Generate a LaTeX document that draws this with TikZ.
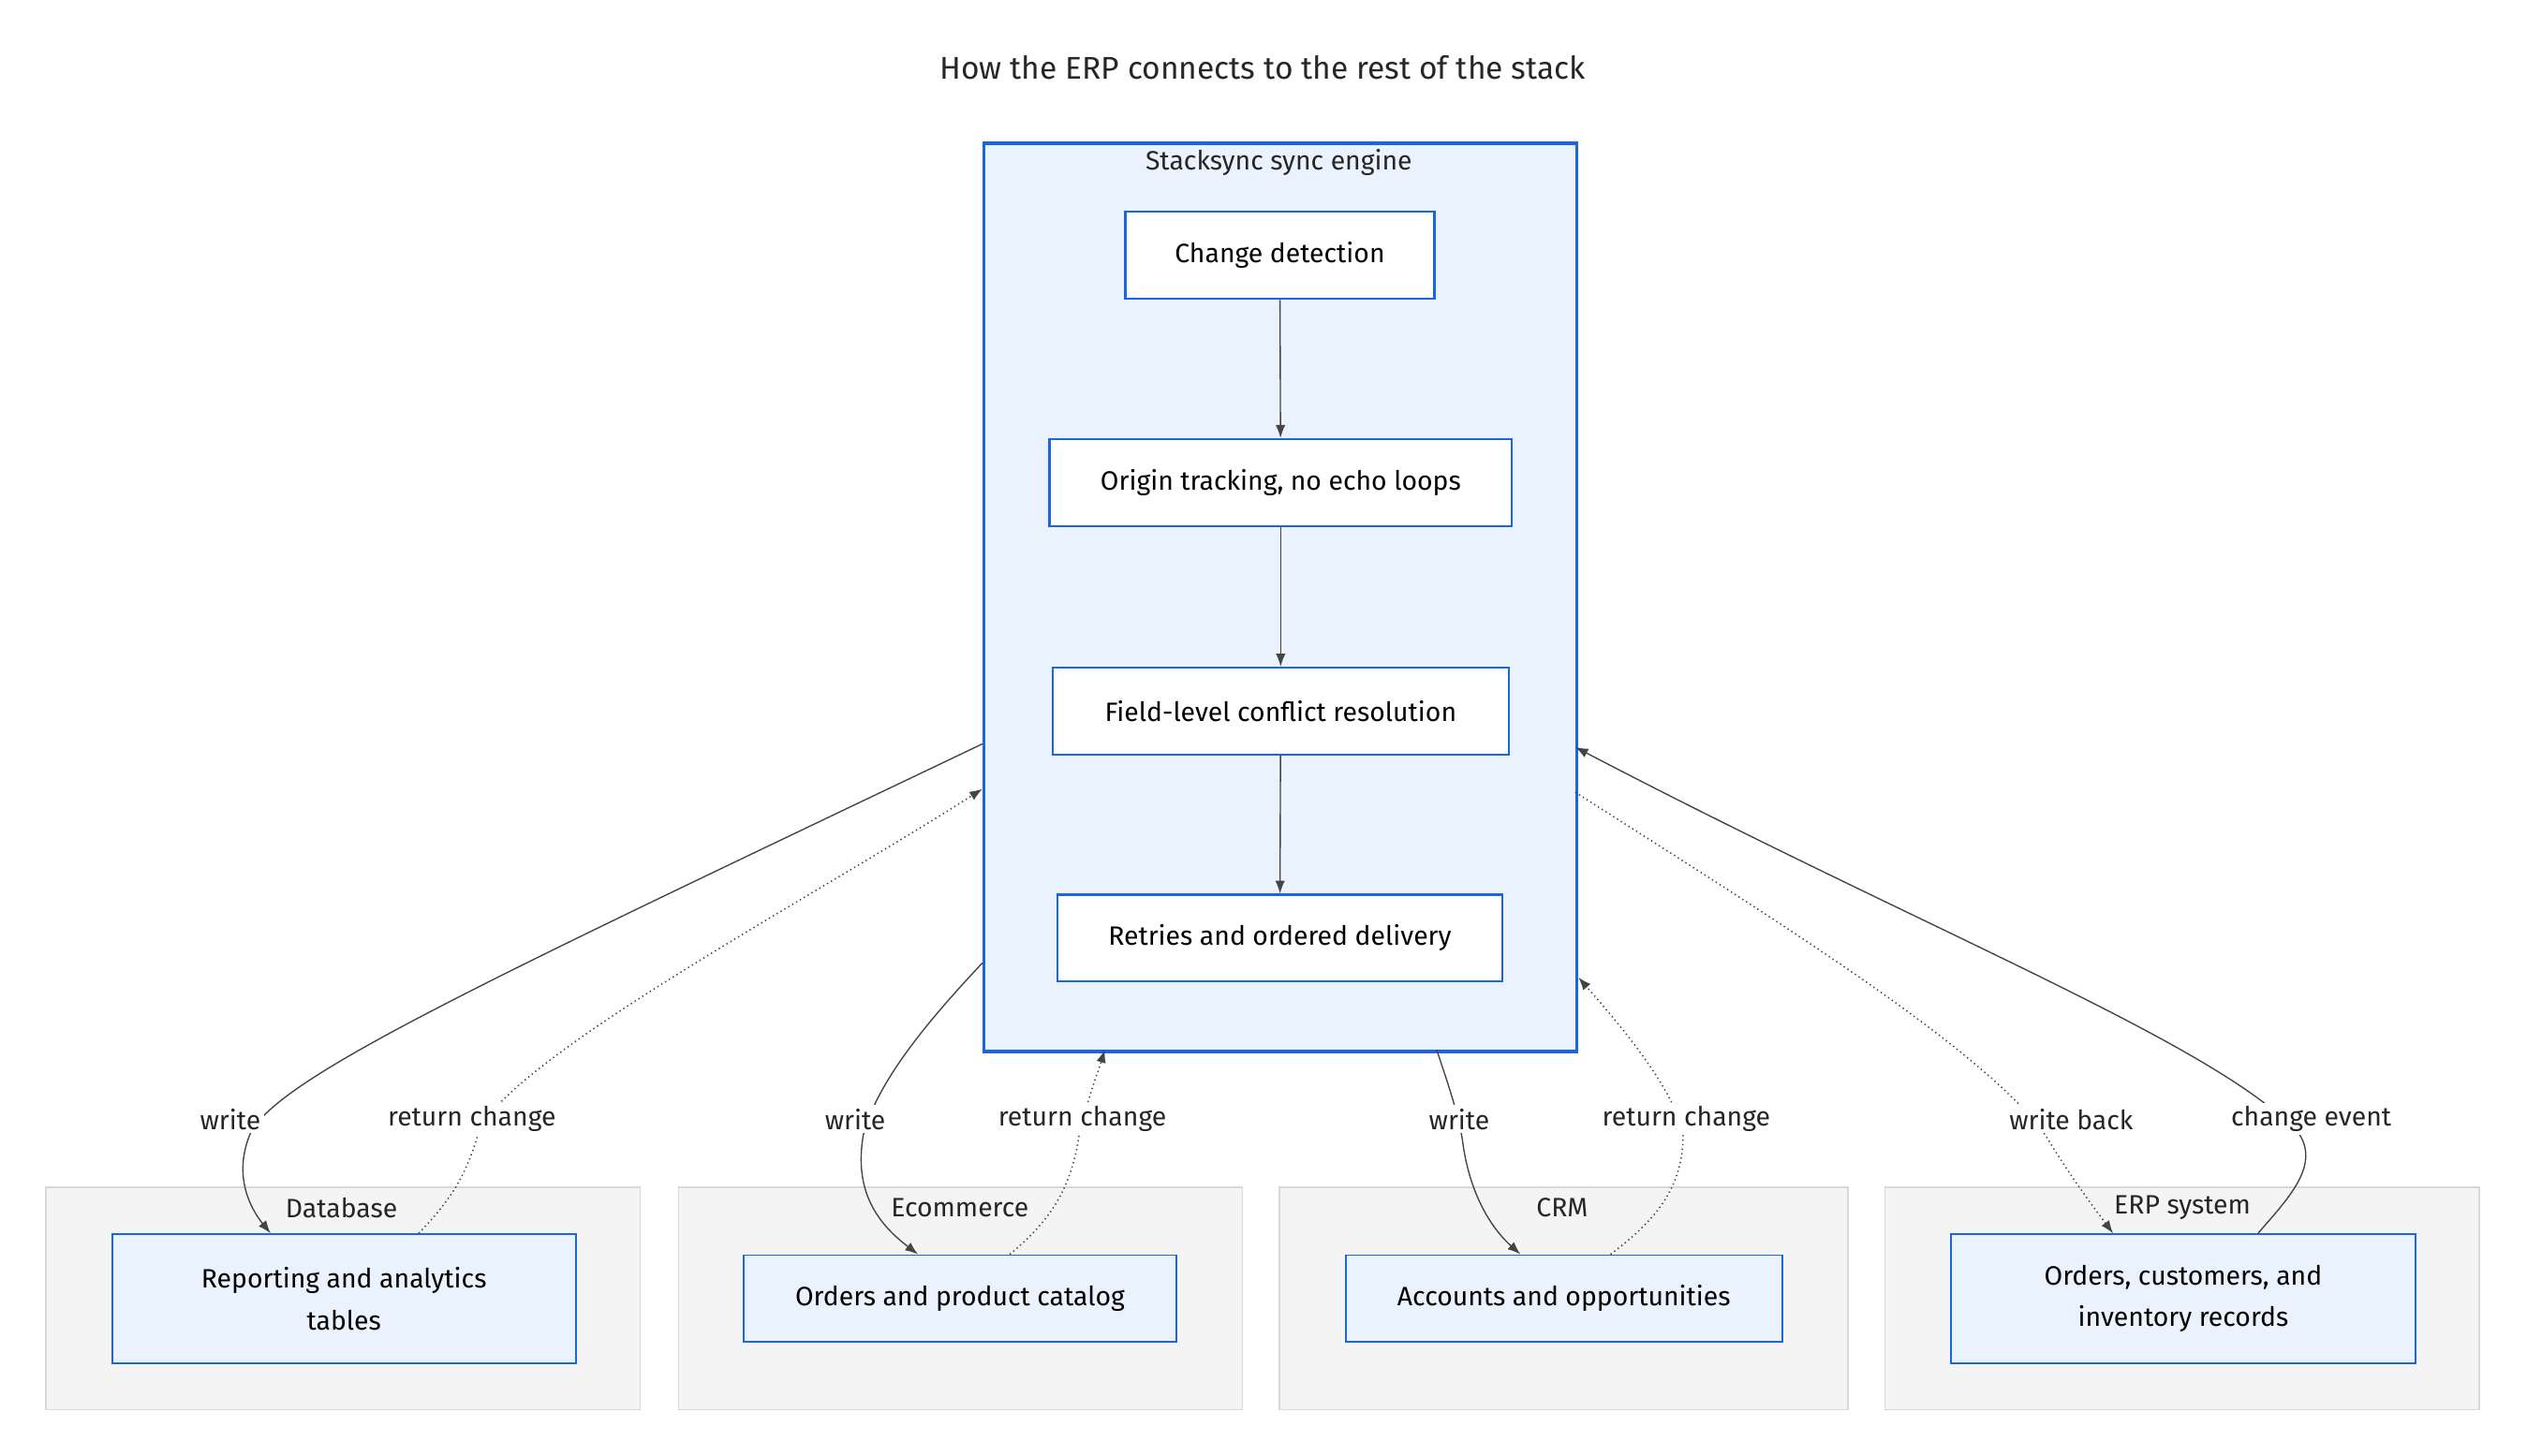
\documentclass[tikz,border=0pt]{standalone}
\usepackage{fontspec}
\setmainfont{Fira Sans}
\usetikzlibrary{arrows.meta}
\definecolor{bl}{HTML}{1A66E0}
\definecolor{lb}{HTML}{EAF2FE}
\definecolor{gf}{HTML}{F4F4F4}
\definecolor{gs}{HTML}{D8D8D8}
\definecolor{ed}{HTML}{444444}
\begin{document}
\begin{tikzpicture}[x=1pt,y=-1pt,
 inner/.style={draw=bl,line width=1.3pt,fill=white,minimum height=54pt,font=\fontsize{16.5}{20}\selectfont,align=center,anchor=north west,inner sep=0pt},
 leaf/.style={draw=bl,line width=1.1pt,fill=lb,font=\fontsize{16.5}{26}\selectfont,align=center,anchor=north west,inner sep=0pt},
 grp/.style={draw=gs,line width=0.8pt,fill=gf,anchor=north west,inner sep=0pt,minimum width=#1},
 lab/.style={font=\fontsize{16.5}{20}\selectfont,text=black!85},
 e/.style={draw=ed,line width=0.8pt,-{Latex[length=8pt,width=6pt]}},
 d/.style={e,dotted,line width=0.9pt}]
\useasboundingbox (0,0) rectangle (1569,904);
\node[lab,font=\fontsize{19.5}{24}\selectfont] (title) at (784,42) {How the ERP connects to the rest of the stack};
\node[draw=bl,line width=2pt,fill=lb,anchor=north west,minimum width=368pt,minimum height=564pt,inner sep=0pt] (eng) at (610,88) {};
\node[lab] (engl) at (794,101) {Stacksync sync engine};
\node[inner,minimum width=192pt] (n1) at (698,131) {Change detection};
\node[inner,minimum width=287pt] (n2) at (651,272) {Origin tracking, no echo loops};
\node[inner,minimum width=283pt] (n3) at (653,414) {Field-level conflict resolution};
\node[inner,minimum width=276pt] (n4) at (656,555) {Retries and ordered delivery};
\draw[e] (n1) -- (n2); \draw[e] (n2) -- (n3); \draw[e] (n3) -- (n4);
% groups
\node[grp=369pt,minimum height=138pt] (g1) at (28,737) {};
\node[lab] (g1l) at (212,750) {Database};
\node[leaf,minimum width=288pt,minimum height=80pt] (l1) at (69,766) {Reporting and analytics\\tables};
\node[grp=350pt,minimum height=138pt] (g2) at (421,737) {};
\node[lab] (g2l) at (596,750) {Ecommerce};
\node[leaf,minimum width=269pt,minimum height=54pt] (l2) at (461,779) {Orders and product catalog};
\node[grp=353pt,minimum height=138pt] (g3) at (794,737) {};
\node[lab] (g3l) at (970,750) {CRM};
\node[leaf,minimum width=271pt,minimum height=54pt] (l3) at (835,779) {Accounts and opportunities};
\node[grp=369pt,minimum height=138pt] (g4) at (1170,737) {};
\node[lab] (g4l) at (1355,750) {ERP system};
\node[leaf,minimum width=288pt,minimum height=80pt] (l4) at (1211,766) {Orders, customers, and\\inventory records};
% anchor coordinates
\coordinate (a1) at (610,462); \coordinate (b1) at (168,766);
\coordinate (a2) at (260,766); \coordinate (b2) at (610,490);
\coordinate (a3) at (610,598); \coordinate (b3) at (570,779);
\coordinate (a4) at (627,779); \coordinate (b4) at (686,652);
\coordinate (a5) at (892,652); \coordinate (b5) at (944,779);
\coordinate (a6) at (1000,779); \coordinate (b6) at (980,607);
\coordinate (a7) at (978,492); \coordinate (b7) at (1312,766);
\coordinate (a8) at (1402,766); \coordinate (b8) at (978,464);
\draw[e] (a1) .. controls (300,610) and (170,670) .. (155,705) .. controls (145,730) and (155,750) .. (b1);
\draw[d] (a2) .. controls (280,745) and (290,730) .. (298,700) .. controls (330,650) and (500,560) .. (b2);
\draw[e] (a3) .. controls (580,630) and (545,670) .. (536,705) .. controls (530,740) and (545,760) .. (b3);
\draw[d] (a4) .. controls (650,760) and (665,740) .. (670,705) .. controls (676,680) and (682,665) .. (b4);
\draw[e] (a5) .. controls (898,670) and (905,690) .. (908,708) .. controls (912,740) and (925,762) .. (b5);
\draw[d] (a6) .. controls (1025,760) and (1045,740) .. (1045,705) .. controls (1040,675) and (1000,630) .. (b6);
\draw[d] (a7) .. controls (1100,570) and (1230,650) .. (1270,705) .. controls (1285,730) and (1300,750) .. (b7);
\draw[e] (a8) .. controls (1420,745) and (1440,725) .. (1428,705) .. controls (1380,650) and (1200,580) .. (b8);
\node[lab,fill=white,inner sep=2pt] (t1) at (143,695) {write};
\node[lab,fill=white,inner sep=2pt] (t2) at (293,695) {return change};
\node[lab,fill=white,inner sep=2pt] (t3) at (531,695) {write};
\node[lab,fill=white,inner sep=2pt] (t4) at (672,695) {return change};
\node[lab,fill=white,inner sep=2pt] (t5) at (906,695) {write};
\node[lab,fill=white,inner sep=2pt] (t6) at (1047,695) {return change};
\node[lab,fill=white,inner sep=2pt] (t7) at (1286,695) {write back};
\node[lab,fill=white,inner sep=2pt] (t8) at (1435,695) {change event};
\end{tikzpicture}
\end{document}
